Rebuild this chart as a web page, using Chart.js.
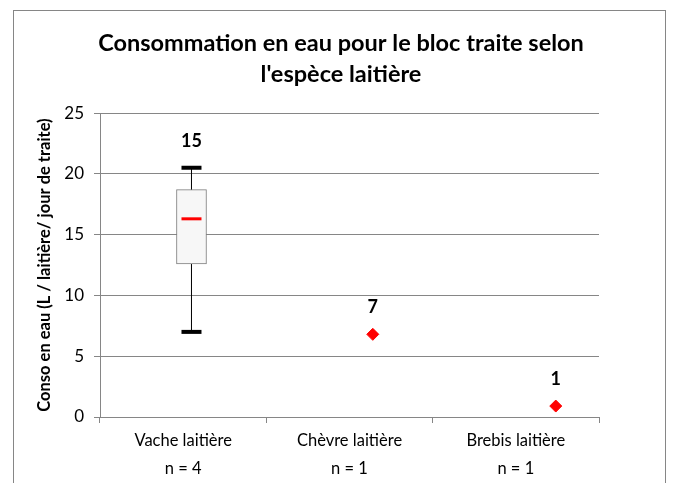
<!DOCTYPE html>
<html>
<head>
<meta charset="utf-8">
<script src="https://cdn.jsdelivr.net/npm/chart.js@4"></script>
<style>
  html, body { margin: 0; padding: 0; background: #fff; }
  canvas { display: block; }
</style>
</head>
<body>
<canvas id="conso" width="673" height="483"></canvas>
<script>
const categories = ['Vache laitière', 'Chèvre laitière', 'Brebis laitière'];
const nLabels = ['n = 4', 'n = 1', 'n = 1'];
const topLabels = ['15', '7', '1'];
// where each mark sits on the hidden 0..3 scale (Excel drew them off-centre)
const markX = [0.55, 1.64, 2.74];
// vache: min, q1, median, q3, max
const vacheBox = [7.0, 12.6, 16.3, 18.7, 20.5];
const singleValues = [null, 6.8, 0.9];
const yTicks = [0, 5, 10, 15, 20, 25];

const grey = '#868686';

const frame = {
  id: 'frame',
  beforeDraw(chart) {
    const ctx = chart.ctx;
    ctx.save();
    ctx.strokeStyle = grey;
    ctx.lineWidth = 1;
    ctx.strokeRect(13.5, 10.5, 652, 500);
    ctx.restore();
  }
};

const valueLabels = {
  id: 'valueLabels',
  afterDatasetsDraw(chart) {
    const { ctx, scales: { x2, y } } = chart;
    ctx.save();
    ctx.font = 'bold 18px Lato';
    ctx.fillStyle = '#000';
    ctx.textAlign = 'center';
    ctx.textBaseline = 'middle';
    topLabels.forEach((t, i) => {
      const top = i === 0 ? vacheBox[4] : singleValues[i];
      ctx.fillText(t, x2.getPixelForValue(markX[i]), y.getPixelForValue(top) - 27);
    });
    ctx.restore();
  }
};

const singles = singleValues
  .map((v, i) => (v === null ? null : { x: markX[i], y: v }))
  .filter(p => p);

new Chart(document.getElementById('conso'), {
  type: 'bar',
  data: {
    datasets: [{
      type: 'bar',
      xAxisID: 'x2',
      data: [{ x: markX[0], y: [vacheBox[1], vacheBox[3]] }],
      backgroundColor: '#f7f7f7',
      borderColor: '#7f7f7f',
      borderWidth: 1,
      borderSkipped: false,
      barThickness: 30,
      order: 2
    }, {
      type: 'line',
      xAxisID: 'x2',
      data: [{ x: markX[0], y: vacheBox[0] }, { x: markX[0], y: vacheBox[4] }],
      borderColor: '#000',
      borderWidth: 1,
      pointRadius: 0,
      order: 3
    }, {
      type: 'scatter',
      xAxisID: 'x2',
      data: [{ x: markX[0], y: vacheBox[0] }, { x: markX[0], y: vacheBox[4] }],
      pointStyle: 'line',
      pointRadius: 10,
      borderColor: '#000',
      borderWidth: 4,
      order: 1
    }, {
      type: 'scatter',
      xAxisID: 'x2',
      data: [{ x: markX[0], y: vacheBox[2] }],
      pointStyle: 'line',
      pointRadius: 10,
      borderColor: '#ff0000',
      borderWidth: 3,
      order: 0
    }, {
      type: 'scatter',
      xAxisID: 'x2',
      data: singles,
      pointStyle: 'rectRot',
      pointRadius: 6,
      backgroundColor: '#ff0000',
      borderColor: '#ff0000',
      borderWidth: 1,
      order: 0
    }]
  },
  options: {
    responsive: false,
    animation: false,
    layout: { padding: { left: 9, right: 0, top: 0, bottom: 0 } },
    plugins: {
      legend: { display: false },
      tooltip: { enabled: false },
      title: {
        display: true,
        text: ['Consommation en eau pour le bloc traite selon', "l'espèce laitière"],
        color: '#000',
        font: { family: 'Lato', size: 23.5, weight: 'bold', lineHeight: 1.32 },
        padding: { top: 28, bottom: 23 }
      }
    },
    scales: {
      x: {
        type: 'category',
        labels: categories,
        offset: true,
        grid: { offset: true, drawOnChartArea: false, tickLength: 6, color: grey },
        border: { color: grey },
        ticks: {
          color: '#000',
          font: { family: 'Lato', size: 16.5, lineHeight: 1.7 },
          padding: 4,
          maxRotation: 0,
          autoSkip: false,
          callback: (v, i) => [categories[i], nLabels[i]]
        },
        afterFit: s => { s.height = 66; }
      },
      x2: { type: 'linear', min: 0, max: 3, offset: false, display: false },
      y: {
        min: 0,
        max: 25,
        afterBuildTicks: s => { s.ticks = yTicks.map(v => ({ value: v })); },
        grid: { color: grey, tickLength: 6 },
        border: { color: grey },
        ticks: { color: '#000', font: { family: 'Lato', size: 17 }, padding: 10 },
        title: {
          display: true,
          text: 'Conso en eau (L / laitière/ jour de traite)',
          color: '#000',
          font: { family: 'Lato', size: 16.5, weight: 'bold' },
          padding: { top: 26, bottom: 0 }
        },
        afterFit: s => { s.width = 91; }
      },
      // empty right axis, only reserves the blank strip right of the plot
      yRight: {
        position: 'right',
        grid: { display: false },
        border: { display: false },
        ticks: { display: false },
        afterFit: s => { s.width = 74; }
      }
    }
  },
  plugins: [frame, valueLabels]
});
</script>
</body>
</html>
